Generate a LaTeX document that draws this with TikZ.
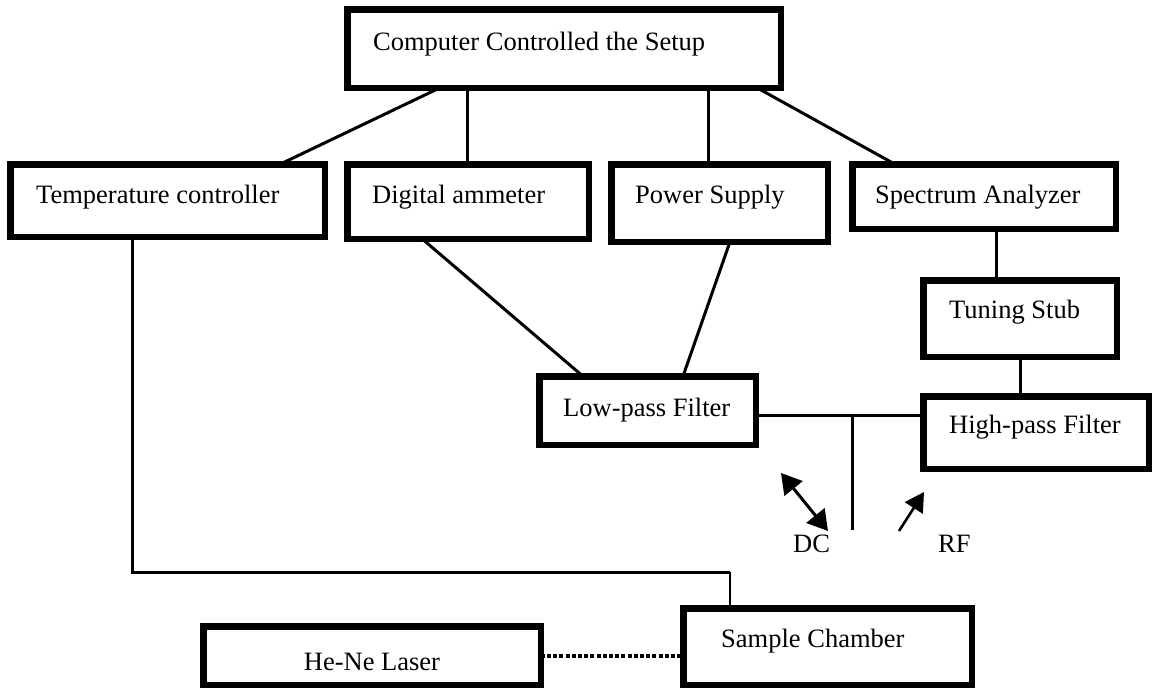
\documentclass[tikz,border=0pt]{standalone}
\usepackage{fontspec}
\setmainfont{Liberation Serif}
\usetikzlibrary{arrows.meta,calc}
\tikzset{
 box/.style={draw, line width=6.5pt, inner sep=0pt, outer sep=0pt, anchor=north west},
 lbl/.style={inner sep=0pt, anchor=base west, font=\fontsize{26.5}{30}\selectfont},
 conn/.style={line width=3pt},
 thinconn/.style={line width=1.6pt},
 dots/.style={line width=4pt, dash pattern=on 4pt off 2.2pt},
 arr/.style={line width=2.6pt, -{Triangle[length=19pt,width=21pt]}},
 darr/.style={line width=3pt, {Triangle[length=20pt,width=23pt]}-{Triangle[length=20pt,width=23pt]}},
}
\begin{document}
\begin{tikzpicture}[x=1pt,y=-1pt]
\useasboundingbox (0,0) rectangle (1157,688);
% boxes
\node[box, minimum width=433.5pt, minimum height=78.5pt] (C) at (347.25,9.25) {};
\node[box, minimum width=314.5pt, minimum height=72.5pt] (T) at (10.25,164.25) {};
\node[box, minimum width=241.5pt, minimum height=74.5pt] (D) at (347.25,164.25) {};
\node[box, minimum width=216.5pt, minimum height=77.5pt] (P) at (611.25,164.25) {};
\node[box, minimum width=263.5pt, minimum height=64.5pt] (S) at (852.25,164.25) {};
\node[box, minimum width=193.5pt, minimum height=76.5pt] (Tu) at (923.25,280.25) {};
\node[box, minimum width=216.5pt, minimum height=68.5pt] (L) at (539.25,376.25) {};
\node[box, minimum width=225.5pt, minimum height=72.5pt] (H) at (923.25,396.25) {};
\node[box, minimum width=288.5pt, minimum height=76.5pt] (Sa) at (683.25,608.25) {};
\node[box, minimum width=337.5pt, minimum height=58.5pt] (La) at (203.25,626.25) {};
% labels
\node[lbl] (tC) at ($(C.north west)+(25.75,40.75)$) {Computer Controlled the Setup};
\node[lbl] (tT) at ($(T.north west)+(25.75,38.75)$) {Temperature controller};
\node[lbl] (tD) at ($(D.north west)+(24.75,38.75)$) {Digital ammeter};
\node[lbl] (tP) at ($(P.north west)+(23.75,38.75)$) {Power Supply};
\node[lbl] (tS) at ($(S.north west)+(22.75,38.75)$) {Spectrum Analyzer};
\node[lbl] (tTu) at ($(Tu.north west)+(25.75,37.75)$) {Tuning Stub};
\node[lbl] (tL) at ($(L.north west)+(23.75,40)$) {Low-pass Filter};
\node[lbl] (tH) at ($(H.north west)+(25.75,37)$) {High-pass Filter};
\node[lbl] (tSa) at ($(Sa.north west)+(37.75,38.75)$) {Sample Chamber};
\node[lbl, anchor=base] (tLa) at ($(La.north)+(0,43.75)$) {He-Ne Laser};
\node[lbl] (tDC) at (793,552) {DC};
\node[lbl] (tRF) at (938,552) {RF};
% connectors from computer
\draw[conn] ([xshift=92.75pt]C.south west) -- ([xshift=269.75pt]T.north west);
\draw[conn] ([xshift=119.75pt]C.south west) coordinate (c2) -- (c2 |- D.north);
\draw[conn] ([xshift=360.75pt]C.south west) coordinate (c3) -- (c3 |- P.north);
\draw[conn] ([xshift=409.75pt]C.south west) -- ([xshift=42.75pt]S.north west);
% to low-pass
\draw[conn] ([xshift=74.75pt]D.south west) -- ([xshift=43.75pt]L.north west);
\draw[conn] ([xshift=118.75pt]P.south west) -- ([xshift=143.75pt]L.north west);
% RF chain
\draw[conn] ([xshift=143.75pt]S.south west) coordinate (s1) -- (s1 |- Tu.north);
\draw[conn] ([xshift=96.75pt]Tu.south west) coordinate (t1) -- (t1 |- H.north);
\draw[conn] ([yshift=-38.75pt]L.north east) coordinate (l1) -- (l1 -| H.west);
\coordinate (jn) at (852,415);
\coordinate (je) at (852,530);
\draw[conn] (jn) -- (je);
% temperature to sample
\coordinate (tc) at (730,572);
\draw[conn] ([xshift=121.75pt]T.south west) |- (tc);
\draw[thinconn] (tc) -- (tc |- Sa.north);
% laser
\draw[dots] (La.east) -- (La.east -| Sa.west);
% arrows
\coordinate (dc1) at (781,473);
\coordinate (dc2) at (828,531);
\draw[darr] (dc1) -- (dc2);
\coordinate (rf1) at (899,531);
\coordinate (rf2) at (924,492);
\draw[arr] (rf1) -- (rf2);
\end{tikzpicture}
\end{document}
